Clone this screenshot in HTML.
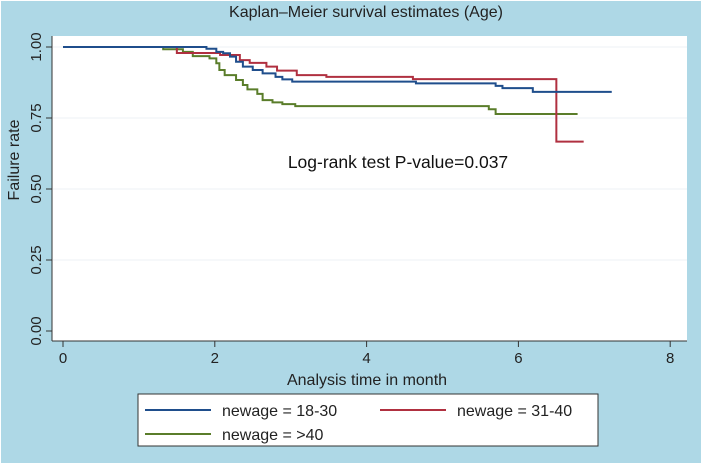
<!DOCTYPE html>
<html><head><meta charset="utf-8"><style>
html,body{margin:0;padding:0;background:#fff}
svg{display:block;font-family:"Liberation Sans",Arial,sans-serif}
</style></head><body>
<svg id="chart" width="702" height="466" viewBox="0 0 702 466">
<rect x="1" y="1" width="700" height="462" fill="#aed8e6"/>
<text x="366" y="17" text-anchor="middle" font-size="16" fill="#222">Kaplan–Meier survival estimates (Age)</text>
<rect x="52" y="36" width="635" height="305" fill="#fff"/>
<g id="grid"></g>
<line x1="52" y1="36" x2="52" y2="341" stroke="#333" stroke-width="1"/>
<line x1="52" y1="341" x2="687" y2="341" stroke="#333" stroke-width="1"/>
<g id="axes"></g>
<g id="series"></g>
<text x="398" y="168" text-anchor="middle" font-size="17.5" fill="#111">Log-rank test P-value=0.037</text>
<text x="367" y="385" text-anchor="middle" font-size="16" fill="#222">Analysis time in month</text>
<text transform="translate(19,160) rotate(-90)" text-anchor="middle" font-size="16" fill="#222">Failure rate</text>
<g>
<rect x="138" y="394" width="460" height="52" fill="#fff" stroke="#333" stroke-width="1"/>
<g>
<line x1="145" y1="410" x2="211" y2="410" stroke="#1f4e8c" stroke-width="2"/>
<text x="222" y="416" font-size="16" fill="#222">newage = 18-30</text></g>
<g>
<line x1="380" y1="410" x2="446" y2="410" stroke="#b03040" stroke-width="2"/>
<text x="457" y="416" font-size="16" fill="#222">newage = 31-40</text></g>
<g>
<line x1="145" y1="434" x2="211" y2="434" stroke="#5a7d2a" stroke-width="2"/>
<text x="222" y="440" font-size="16" fill="#222">newage = &gt;40</text></g>
</g>
</svg>
<script>
const xTicks=[0,2,4,6,8];
const yTicks=[0,0.25,0.5,0.75,1];
const yTickLabels=["0.00","0.25","0.50","0.75","1.00"];
const blueT=[0,1.89,2.02,2.11,2.20,2.28,2.37,2.50,2.63,2.80,2.89,3.02,4.65,5.70,5.79,6.19,7.23];
const blueS=[1,0.994,0.983,0.978,0.966,0.948,0.931,0.919,0.907,0.895,0.886,0.878,0.872,0.863,0.855,0.842,0.842];
const redT=[0,1.50,2.07,2.33,2.46,2.68,2.82,3.08,3.47,4.61,6.50,6.86];
const redS=[1,0.979,0.972,0.954,0.944,0.931,0.917,0.901,0.895,0.887,0.667,0.667];
const greenT=[0,1.32,1.58,1.71,1.93,2.02,2.06,2.13,2.28,2.37,2.43,2.56,2.63,2.76,2.89,3.06,5.61,5.70,6.78];
const greenS=[1,0.992,0.983,0.968,0.96,0.943,0.919,0.901,0.884,0.866,0.851,0.835,0.813,0.805,0.799,0.792,0.781,0.764,0.764];
const NS="http://www.w3.org/2000/svg";
const xs=t=>63+t*75.9;
const ys=v=>331-v*284;
const grid=document.getElementById('grid'),axes=document.getElementById('axes'),ser=document.getElementById('series');
yTicks.forEach((v,i)=>{
  if(v>0){const g=document.createElementNS(NS,'line');
  
  
  g.setAttribute('x1',53);g.setAttribute('x2',687);g.setAttribute('y1',ys(v));g.setAttribute('y2',ys(v));
  g.setAttribute('stroke','#eef2f4');g.setAttribute('stroke-width','1');grid.appendChild(g);}
  const tk=document.createElementNS(NS,'line');
  
  
  tk.setAttribute('x1',46);tk.setAttribute('x2',52);tk.setAttribute('y1',ys(v));tk.setAttribute('y2',ys(v));
  tk.setAttribute('stroke','#333');axes.appendChild(tk);
  const tx=document.createElementNS(NS,'text');
  
  
  tx.setAttribute('transform','translate(41,'+ys(v)+') rotate(-90)');
  tx.setAttribute('text-anchor','middle');tx.setAttribute('font-size','15');tx.setAttribute('fill','#222');
  tx.textContent=yTickLabels[i];axes.appendChild(tx);
});
xTicks.forEach(t=>{
  const tk=document.createElementNS(NS,'line');
  
  
  tk.setAttribute('x1',xs(t));tk.setAttribute('x2',xs(t));tk.setAttribute('y1',341);tk.setAttribute('y2',347);
  tk.setAttribute('stroke','#333');axes.appendChild(tk);
  const tx=document.createElementNS(NS,'text');
  
  
  tx.setAttribute('x',xs(t));tx.setAttribute('y',363);tx.setAttribute('text-anchor','middle');
  tx.setAttribute('font-size','15');tx.setAttribute('fill','#222');tx.textContent=t;axes.appendChild(tx);
});
function step(T,S,color,name){
  let d='M'+xs(T[0])+','+ys(S[0]);
  for(let i=1;i<T.length;i++){d+=' H'+xs(T[i])+' V'+ys(S[i]);}
  const p=document.createElementNS(NS,'path');
  
  
  p.setAttribute('d',d);p.setAttribute('fill','none');p.setAttribute('stroke',color);p.setAttribute('stroke-width','2');
  ser.appendChild(p);
}
step(greenT,greenS,'#5a7d2a','series-over-40');
step(redT,redS,'#b03040','series-31-40');
step(blueT,blueS,'#1f4e8c','series-18-30');
</script>
</body></html>
